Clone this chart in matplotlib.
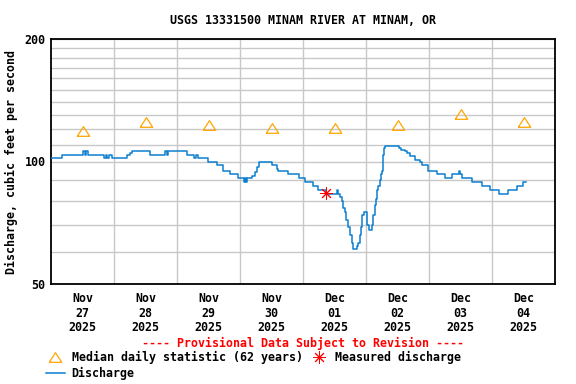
import matplotlib
matplotlib.use("Agg")
import matplotlib.pyplot as plt
from matplotlib.lines import Line2D
from matplotlib.ticker import FixedLocator, NullFormatter

# discharge trace: hours since 2025-11-27 00:00 and cfs (held until next point)
hours = [0, 4.1, 12.3, 12.8, 13.3, 14.2, 20.2, 20.8, 21.5, 22.2, 23.1,
         29.1, 30.1, 31.0, 37.7, 43.4, 44.0, 44.7, 51.9, 54.5, 55.2, 56.1,
         59.7, 63.1, 65.7, 68.2, 71.4, 73.5, 73.9, 74.2, 74.5,
         76.7, 77.7, 78.3, 79.4, 84.3, 86.0, 86.6, 90.4, 94.6, 96.8, 99.7,
         101.6, 104.8, 108.8, 109.5, 110.1, 110.8, 111.4, 112.0, 112.4,
         113.3, 114.0, 114.5, 115.2, 116.6, 117.1, 117.6, 118.0, 118.3,
         118.6, 119.2, 120.5, 121.0, 122.2, 122.8, 123.3, 123.8, 124.3,
         124.7, 125.3, 125.7, 126.0, 126.3, 126.6, 127.0, 127.2, 132.7,
         133.4, 134.9, 135.5, 136.8, 138.7, 140.6, 141.2, 143.7, 146.9,
         150.1, 152.6, 155.6, 155.9, 156.4, 160.3, 164.1, 167.2, 170.6,
         174.2, 177.4, 179.9, 180.8]
cfs = [102, 104, 106, 104, 106, 104, 102, 104, 102, 104, 102,
       104, 105, 106, 104, 106, 104, 106, 104, 102, 104, 102,
       100, 98, 95, 93, 91, 89, 91, 89, 91,
       92, 94, 97, 100, 98, 96, 95, 93, 91, 89, 87,
       85, 83, 85, 83, 82, 80, 77, 75, 72,
       69, 66, 63, 61, 62, 63, 66, 69, 72,
       74, 75, 70, 68, 70, 74, 78, 81, 85,
       87, 90, 93, 95, 99, 104, 108, 109, 108,
       107, 106, 105, 103, 101, 100, 98, 95, 93,
       91, 93, 95, 93, 91, 89, 87, 85, 83,
       85, 87, 89, 89]

# median daily statistic, one per day at noon
median_hours = [12, 36, 60, 84, 108, 132, 156, 180]
median_cfs = [119, 125, 123, 121, 121, 123, 131, 125]

# field measurement
measured_hours = [104.8]
measured_cfs = [83.5]

day_labels = ["Nov\n27\n2025", "Nov\n28\n2025", "Nov\n29\n2025", "Nov\n30\n2025",
              "Dec\n01\n2025", "Dec\n02\n2025", "Dec\n03\n2025", "Dec\n04\n2025"]

font = {"family": "DejaVu Sans Mono", "weight": "bold", "size": 8.4}
plt.rcParams["font.family"] = "DejaVu Sans Mono"
plt.rcParams["font.weight"] = "bold"

fig = plt.figure(figsize=(5.76, 3.84), dpi=100)
ax = fig.add_axes([51 / 576, 1 - 284 / 384, 504 / 576, 245 / 384])

line_blue = "#0b7fd0"
orange = "#ffa500"

ax.plot(hours, cfs, drawstyle="steps-post", color=line_blue, lw=1.1,
        label="Discharge", zorder=3)
med, = ax.plot(median_hours, median_cfs, linestyle="none",
               marker=[(-1.3, -1), (1.3, -1), (0, 1), (-1.3, -1)],
               ms=9, mfc="none", mec=orange, mew=0.9, zorder=4,
               label="Median daily statistic (62 years)")
meas, = ax.plot(measured_hours, measured_cfs, linestyle="none",
                marker=(8, 2, 0), ms=9, mec="red", mew=0.7, zorder=5,
                label="Measured discharge")

ax.set_yscale("log")
ax.set_ylim(50, 200)
ax.set_xlim(0, 192)

ax.yaxis.set_major_locator(FixedLocator([50, 100, 200]))
ax.yaxis.set_minor_locator(FixedLocator(list(range(60, 200, 10))))
ax.yaxis.set_minor_formatter(NullFormatter())
ax.set_yticklabels(["50", "100", "200"], **font)

ax.set_xticks(median_hours)
ax.set_xticklabels(day_labels, linespacing=1.12, **font)
ax.set_xticks(list(range(24, 192, 24)), minor=True)
ax.tick_params(axis="both", which="both", length=0)
ax.tick_params(axis="x", pad=6)
ax.tick_params(axis="y", pad=4)

ax.grid(False)
ax.grid(True, which="minor", color="#c8c8c8", lw=1.0)
ax.grid(True, which="major", axis="y", color="#c8c8c8", lw=1.0)
for s in ax.spines.values():
    s.set_linewidth(1.3)
    s.set_color("black")

ax.set_ylabel("Discharge, cubic feet per second", **font)
ax.yaxis.set_label_coords(-0.065, 0.5)

fig.text(303 / 576, 1 - 21 / 384, "USGS 13331500 MINAM RIVER AT MINAM, OR",
         ha="center", va="center", **font)
fig.text(303 / 576, 1 - 343 / 384, "---- Provisional Data Subject to Revision ----",
         ha="center", va="center", color="red", **font)

leg_handles = [med, Line2D([], [], color=line_blue, lw=1.1), meas]
leg_labels = ["Median daily statistic (62 years)", "Discharge", "Measured discharge"]
fig.legend(leg_handles, leg_labels, ncol=2, frameon=False,
           loc="upper left", bbox_to_anchor=(40 / 576, 1 - 345 / 384),
           prop=font, handlelength=1.6, handletextpad=0.6,
           columnspacing=0.6, labelspacing=0.25, borderpad=0)

fig.savefig("out.png", dpi=100)
